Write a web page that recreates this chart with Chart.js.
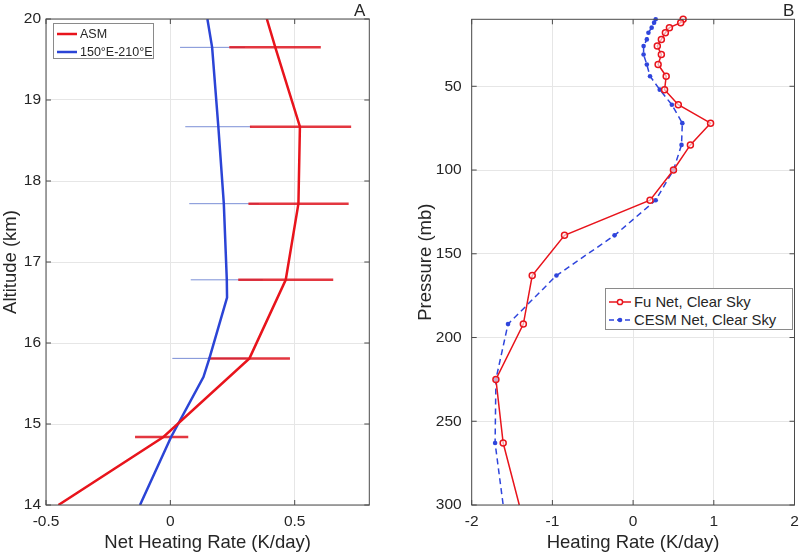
<!DOCTYPE html>
<html>
<head>
<meta charset="utf-8">
<script src="https://cdn.jsdelivr.net/npm/chart.js@4.4.1/dist/chart.umd.min.js"></script>
<style>
body{margin:0;background:#fff;font-family:"Liberation Sans",Arial,sans-serif;color:#262626}
#wrap{position:relative;width:800px;height:555px;overflow:hidden}
canvas{position:absolute;top:0}
#cnvA{left:0}
#cnvB{left:380px}
.tag{position:absolute;font-size:17px;line-height:17px}
.legend{position:absolute;background:#fff;border:1px solid #8a8a8a;box-sizing:border-box}
.row{position:absolute;white-space:nowrap;display:flex;align-items:center;height:16px}
.row svg{margin-right:3px}
</style>
</head>
<body>
<div id="wrap">
  <canvas id="cnvA" width="380" height="555"></canvas>
  <canvas id="cnvB" width="420" height="555"></canvas>
  <div class="tag" style="left:354px;top:2px">A</div>
  <div class="tag" style="left:783px;top:2px">B</div>
  <div class="legend" style="left:53px;top:23px;width:101px;height:36px;font-size:12.5px">
    <div class="row" style="left:3px;top:2px"><svg width="20" height="4"><line x1="0" y1="2" x2="20" y2="2" stroke="#e8141c" stroke-width="2.5"/></svg>ASM</div>
    <div class="row" style="left:3px;top:20px"><svg width="20" height="4"><line x1="0" y1="2" x2="20" y2="2" stroke="#2b44d6" stroke-width="2.5"/></svg>150°E-210°E</div>
  </div>
  <div class="legend" style="left:605px;top:288px;width:188px;height:42px;font-size:14.8px">
    <div class="row" style="left:3px;top:5px"><svg width="22" height="10"><line x1="0" y1="5" x2="22" y2="5" stroke="#e8141c" stroke-width="1.5"/><circle cx="11" cy="5" r="2.6" fill="#fff" stroke="#e8141c" stroke-width="1.5"/></svg>Fu Net, Clear Sky</div>
    <div class="row" style="left:3px;top:23px"><svg width="22" height="10"><line x1="0" y1="5" x2="22" y2="5" stroke="#2f45dc" stroke-width="1.5" stroke-dasharray="5 3"/><circle cx="11" cy="5" r="2.3" fill="#2f45dc"/></svg>CESM Net, Clear Sky</div>
  </div>
</div>
<script>
// panel A: altitude profiles (km) of net heating rate (K/day)
const asmAlt = [20, 19.65, 18.67, 17.72, 16.78, 15.81, 14.84, 14];
const asmRate = [0.388, 0.422, 0.521, 0.515, 0.464, 0.318, -0.028, -0.45];
const wpAlt = [20, 19.65, 18.67, 17.72, 16.78, 16.56, 15.81, 15.58, 14.84, 14];
const wpRate = [0.149, 0.168, 0.193, 0.215, 0.227, 0.228, 0.157, 0.133, 0.003, -0.122];
// horizontal spread bars
const asmBarAlt = [19.65, 18.67, 17.72, 16.78, 15.81, 14.84];
const asmBarLo = [0.237, 0.32, 0.314, 0.273, 0.153, -0.142];
const asmBarHi = [0.605, 0.727, 0.717, 0.655, 0.481, 0.072];
const wpBarAlt = [19.65, 18.67, 17.72, 16.78, 15.81];
const wpBarLo = [0.039, 0.06, 0.076, 0.082, 0.008];
const wpBarHi = [0.30, 0.326, 0.356, 0.372, 0.306];
const ticksAx = [-0.5, 0, 0.5];
const ticksAy = [14, 15, 16, 17, 18, 19, 20];

// panel B: pressure (mb) profiles
const pressure = [10, 12, 15, 18, 22, 26, 31, 37, 44, 52, 61, 72, 85, 100, 118, 139, 163, 192, 225, 263, 300];
const fuNet = [0.62, 0.59, 0.45, 0.40, 0.35, 0.30, 0.35, 0.31, 0.41, 0.39, 0.56, 0.96, 0.71, 0.50, 0.21, -0.85, -1.25, -1.36, -1.70, -1.61, -1.41];
const cesmNet = [0.28, 0.26, 0.23, 0.19, 0.17, 0.13, 0.13, 0.17, 0.21, 0.33, 0.48, 0.61, 0.60, 0.50, 0.28, -0.23, -0.95, -1.55, -1.70, -1.71, -1.61];
const ticksBx = [-2, -1, 0, 1, 2];
const ticksBy = [50, 100, 150, 200, 250, 300];

const FONT = '"Liberation Sans", Arial, sans-serif';
const INK = '#262626';

function profile(xs, ys){
  return xs.map((v, i) => ({x: v, y: ys[i]}));
}

function bars(alt, lo, hi){
  const out = [];
  alt.forEach((a, i) => {
    out.push({x: lo[i], y: a}, {x: hi[i], y: a}, {x: null, y: null});
  });
  return out;
}

// box round the plot with inward tick marks
const boxTicks = {
  id: 'boxTicks',
  afterDatasetsDraw(chart){
    const {ctx, chartArea: a, scales: {x, y}} = chart;
    ctx.save();
    ctx.strokeStyle = '#4a4a4a';
    ctx.lineWidth = 1;
    ctx.strokeRect(a.left, a.top, a.right - a.left, a.bottom - a.top);
    ctx.beginPath();
    x.ticks.forEach(t => {
      const p = x.getPixelForValue(t.value);
      ctx.moveTo(p, a.bottom); ctx.lineTo(p, a.bottom - 5);
      ctx.moveTo(p, a.top); ctx.lineTo(p, a.top + 5);
    });
    y.ticks.forEach(t => {
      const p = y.getPixelForValue(t.value);
      ctx.moveTo(a.left, p); ctx.lineTo(a.left + 5, p);
      ctx.moveTo(a.right, p); ctx.lineTo(a.right - 5, p);
    });
    ctx.stroke();
    ctx.restore();
  }
};

function axes(opt){
  return {
    x: {
      type: 'linear', min: opt.xmin, max: opt.xmax,
      afterBuildTicks: s => { s.ticks = opt.xticks.map(v => ({value: v})); },
      afterFit: s => { s.height = 50; s.paddingLeft = 0; s.paddingRight = 0; },
      grid: {color: '#e6e6e6', drawTicks: false},
      border: {display: false},
      ticks: {padding: 7, color: INK, font: {family: FONT, size: 15.5}, callback: v => String(v)},
      title: {display: true, text: opt.xtitle, color: INK, font: {family: FONT, size: 18.5}, padding: {top: 0, bottom: 1}}
    },
    y: {
      type: 'linear', min: opt.ymin, max: opt.ymax, reverse: !!opt.reverse,
      afterBuildTicks: s => { s.ticks = opt.yticks.map(v => ({value: v})); },
      afterFit: s => { s.width = opt.yw; },
      grid: {color: '#e6e6e6', drawTicks: false},
      border: {display: false},
      ticks: {padding: opt.ypad, color: INK, font: {family: FONT, size: 15.5}, callback: v => String(v)},
      title: {display: true, text: opt.ytitle, color: INK, font: {family: FONT, size: 18.5}, padding: {top: opt.ytpad, bottom: 0}}
    }
  };
}

new Chart(document.getElementById('cnvA'), {
  type: 'scatter',
  data: {
    datasets: [
      {label: 'ASM', data: profile(asmRate, asmAlt), showLine: true, borderColor: '#e8141c', borderWidth: 2.5, pointRadius: 0},
      {label: '150°E-210°E', data: profile(wpRate, wpAlt), showLine: true, borderColor: '#2b44d6', borderWidth: 2.5, pointRadius: 0},
      {label: 'ASM spread', data: bars(asmBarAlt, asmBarLo, asmBarHi), showLine: true, spanGaps: false, borderColor: 'rgba(222,20,30,0.85)', borderWidth: 2.5, pointRadius: 0},
      {label: 'WP spread', data: bars(wpBarAlt, wpBarLo, wpBarHi), showLine: true, spanGaps: false, borderColor: '#7b8fd6', borderWidth: 1, pointRadius: 0}
    ]
  },
  options: {
    responsive: false, animation: false,
    layout: {padding: {left: 0, right: 10.7, top: 19, bottom: 0}},
    plugins: {legend: {display: false}, tooltip: {enabled: false}},
    scales: axes({xmin: -0.5, xmax: 0.8, xticks: ticksAx, ymin: 14, ymax: 20, yticks: ticksAy,
      xtitle: 'Net Heating Rate (K/day)', ytitle: 'Altitude (km)', yw: 46, ypad: 5, ytpad: 0})
  },
  plugins: [boxTicks]
});

new Chart(document.getElementById('cnvB'), {
  type: 'scatter',
  data: {
    datasets: [
      {label: 'Fu Net, Clear Sky', data: profile(fuNet, pressure), showLine: true, borderColor: '#e8141c', borderWidth: 1.5,
        pointRadius: pressure.map(p => p >= 300 ? 0 : 3), pointBorderWidth: 1.5, pointBorderColor: '#e8141c', pointBackgroundColor: 'rgba(255,255,255,0.6)', clip: 6},
      {label: 'CESM Net, Clear Sky', data: profile(cesmNet, pressure), showLine: true, borderColor: '#2f45dc', borderWidth: 1.5, borderDash: [6, 4],
        pointRadius: pressure.map(p => p >= 300 ? 0 : 2.3), pointBorderWidth: 0, pointBackgroundColor: '#2f45dc', clip: 6}
    ]
  },
  options: {
    responsive: false, animation: false,
    layout: {padding: {left: 0, right: 5, top: 19, bottom: 0}},
    plugins: {legend: {display: false}, tooltip: {enabled: false}},
    scales: axes({xmin: -2, xmax: 2, xticks: ticksBx, ymin: 10, ymax: 300, yticks: ticksBy, reverse: true,
      xtitle: 'Heating Rate (K/day)', ytitle: 'Pressure (mb)', yw: 91.7, ypad: 10, ytpad: 34.4})
  },
  plugins: [boxTicks]
});
</script>
</body>
</html>
